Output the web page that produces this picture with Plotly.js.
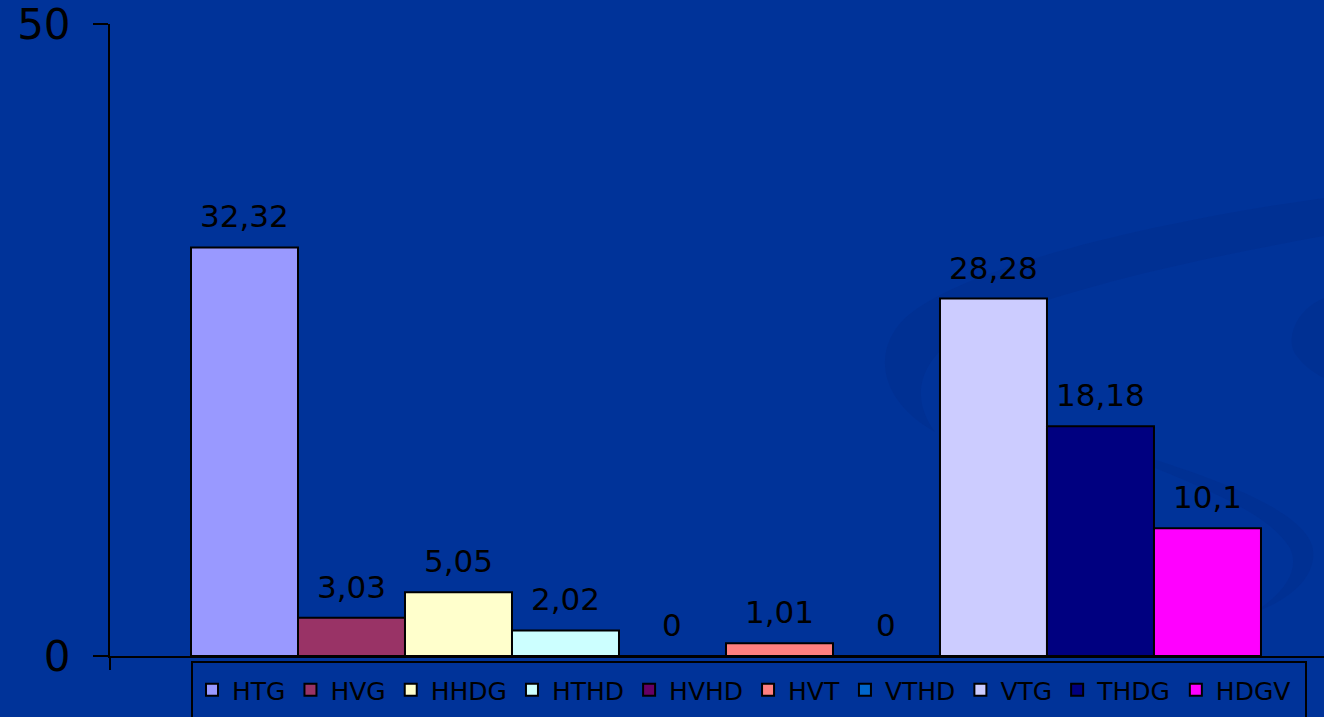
<!DOCTYPE html>
<html>
<head>
<meta charset="utf-8">
<script src="https://cdn.plot.ly/plotly-3.0.1.min.js"></script>
<style>html,body{margin:0;padding:0;background:#003399;}#chart{width:1324px;height:717px;}</style>
</head>
<body>
<div id="chart"></div>
<script>
const seriesNames = ["HTG","HVG","HHDG","HTHD","HVHD","HVT","VTHD","VTG","THDG","HDGV"];
const seriesValues = [32.32, 3.03, 5.05, 2.02, 0, 1.01, 0, 28.28, 18.18, 10.1];
const seriesLabels = ["32,32","3,03","5,05","2,02","0","1,01","0","28,28","18,18","10,1"];
const seriesColors = ["#9999FF","#993366","#FFFFCC","#CCFFFF","#660066","#FF8080","#0066CC","#CCCCFF","#000080","#FF00FF"];
const yTicks = [0, 50];

const FONT = "DejaVu Sans, Arial, sans-serif";

const traces = seriesNames.map((n, i) => ({
  type: "bar",
  name: n,
  x: [i],
  y: [seriesValues[i]],
  width: 1,
  marker: {color: seriesColors[i], line: {color: "#000000", width: 2}},
  hoverinfo: "skip"
}));

const annotations = seriesNames.map((n, i) => ({
  xref: "x", yref: "y",
  x: i, y: seriesValues[i],
  text: seriesLabels[i],
  showarrow: false,
  xanchor: "center", yanchor: "bottom",
  yshift: 11,
  font: {family: FONT, size: 31, color: "#000000"}
}));

// Px helpers for paper-space decoration (plot area: x 110..1324, y 24..656)
const L = 110, T = 24, W = 1214, H = 632;
function px(x){ return (x - L) / W; }
function py(y){ return (T + H - y) / H; }
function path(pts){
  return pts.map(p => {
    if (typeof p === "string") return p;
    return px(p[0]).toFixed(4) + "," + py(p[1]).toFixed(4);
  }).join(" ");
}
const swirlColor = "rgba(0,30,110,0.13)";

const shapes = [
  // faint background swirl (decoration)
  {type: "path", xref: "paper", yref: "paper", layer: "below", line: {width: 0}, fillcolor: swirlColor,
   path: path(["M", [1324,198], "C", [1150,222], [960,268], [905,318], "C", [872,350], [878,400], [935,432],
                "C", [915,405], [912,370], [955,338], "C", [1030,295], [1200,258], [1324,236], "Z"])},
  {type: "path", xref: "paper", yref: "paper", layer: "below", line: {width: 0}, fillcolor: swirlColor,
   path: path(["M", [1140,455], "C", [1220,480], [1300,510], [1312,545], "C", [1320,575], [1290,600], [1255,612],
                "C", [1285,592], [1300,570], [1290,548], "C", [1270,515], [1210,490], [1140,462], "Z"])},
  {type: "path", xref: "paper", yref: "paper", layer: "below", line: {width: 0}, fillcolor: swirlColor,
   path: path(["M", [1324,298], "C", [1295,310], [1285,340], [1296,355], "C", [1305,368], [1318,375], [1324,378], "Z"])},
  // legend box (extends past bottom edge)
  {type: "rect", xref: "paper", yref: "paper", layer: "above",
   x0: px(192), x1: px(1306), y0: py(662), y1: py(740),
   line: {color: "#000000", width: 2}, fillcolor: "rgba(0,0,0,0)"},
  // y axis line continuing below zero
  {type: "line", xref: "paper", yref: "paper", x0: 0, x1: 0, y0: 0, y1: py(670),
   line: {color: "#000000", width: 2}}
];

const layout = {
  width: 1324, height: 717,
  paper_bgcolor: "#003399",
  plot_bgcolor: "rgba(0,0,0,0)",
  margin: {l: 110, r: 0, t: 24, b: 61, pad: 0},
  barmode: "overlay",
  showlegend: true,
  font: {family: FONT, color: "#000000"},
  xaxis: {
    type: "linear",
    range: [-1.257, 10.089],
    showticklabels: false,
    ticks: "",
    showgrid: false,
    zeroline: false,
    showline: true,
    linecolor: "#000000",
    linewidth: 2,
    fixedrange: true
  },
  yaxis: {
    range: [0, 50],
    tickvals: yTicks,
    ticktext: yTicks.map(String),
    ticks: "outside",
    ticklen: 15,
    tickwidth: 2,
    tickcolor: "#000000",
    ticklabelstandoff: 14,
    ticklabeloverflow: "allow",
    tickfont: {family: FONT, size: 42, color: "#000000"},
    showgrid: false,
    zeroline: false,
    showline: true,
    linecolor: "#000000",
    linewidth: 2,
    fixedrange: true
  },
  legend: {
    orientation: "h",
    x: px(192), xanchor: "left",
    y: py(667), yanchor: "top",
    bgcolor: "rgba(0,0,0,0)",
    borderwidth: 0,
    font: {family: FONT, size: 25, color: "#000000"},
    traceorder: "normal"
  },
  annotations: annotations,
  shapes: shapes
};

Plotly.newPlot("chart", traces, layout, {displayModeBar: false, staticPlot: true});
</script>
</body>
</html>
